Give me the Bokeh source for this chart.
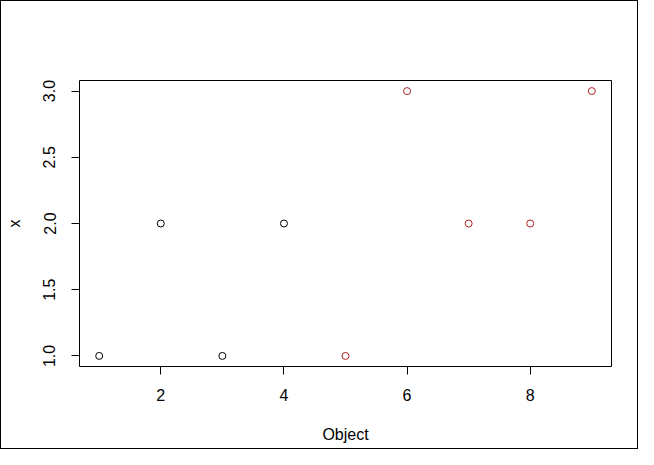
from bokeh.plotting import figure
from bokeh.models import FixedTicker, ColumnDataSource
from bokeh.embed import file_html
from bokeh.resources import INLINE

obj = [1, 2, 3, 4, 5, 6, 7, 8, 9]
xval = [1, 2, 1, 2, 1, 3, 2, 2, 3]
group_color = ["black", "black", "black", "black", "#b22222", "#b22222", "#b22222", "#b22222", "#b22222"]
x_ticks = [2, 4, 6, 8]
y_ticks = [1.0, 1.5, 2.0, 2.5, 3.0]

src = ColumnDataSource(dict(obj=obj, x=xval, c=group_color))

p = figure(width=638, height=449, output_backend="svg", toolbar_location=None,
           x_range=(0.68, 9.32), y_range=(0.92, 3.08),
           min_border_left=79, min_border_right=27, min_border_top=80, min_border_bottom=83)
p.styles = {"box-shadow": "inset 0 0 0 1px black"}
p.background_fill_color = "white"
p.border_fill_color = None
p.outline_line_color = "black"
p.outline_line_width = 1
p.xgrid.visible = False
p.ygrid.visible = False

p.scatter("obj", "x", source=src, size=7, fill_color=None, line_color="c", line_width=1)

font = "Liberation Sans"
for ax in (p.xaxis[0], p.yaxis[0]):
    ax.axis_line_color = None
    ax.minor_tick_line_color = None
    ax.major_tick_out = 8
    ax.major_tick_in = 0
    ax.major_tick_line_color = "black"
    ax.major_label_text_font = font
    ax.major_label_text_font_size = "16px"
    ax.major_label_text_color = "black"
    ax.axis_label_text_font = font
    ax.axis_label_text_font_size = "16px"
    ax.axis_label_text_font_style = "normal"
    ax.axis_label_text_color = "black"

p.xaxis.ticker = FixedTicker(ticks=x_ticks)
p.yaxis.ticker = FixedTicker(ticks=y_ticks)
p.yaxis.major_label_overrides = {v: f"{v:.1f}" for v in y_ticks}
p.yaxis.major_label_orientation = "vertical"
p.xaxis.axis_label = "Object"
p.yaxis.axis_label = "x"
p.xaxis.major_label_standoff = 14
p.xaxis.axis_label_standoff = 22
p.yaxis.major_label_standoff = 16
p.yaxis.axis_label_standoff = 18

open("out.html", "w").write(file_html(p, INLINE))
